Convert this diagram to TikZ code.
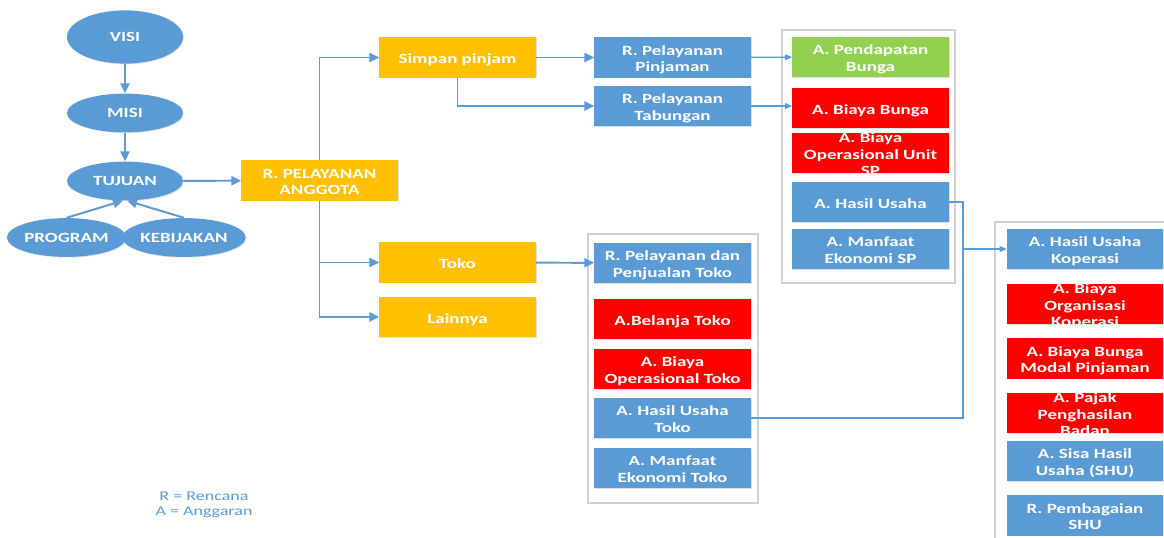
\documentclass[tikz,border=0pt]{standalone}
\usepackage{fontspec}
\newfontfamily\boxfont[FakeStretch=1.35]{Carlito}
\usetikzlibrary{shapes.geometric,arrows.meta,shadows}

\definecolor{biru}{HTML}{5B9BD5}
\definecolor{kuning}{HTML}{FFC000}
\definecolor{hijau}{HTML}{92D050}
\definecolor{merah}{HTML}{FF0000}

% text of a box, may run over the box edge
\newcommand{\isi}[1]{\raisebox{-0.45em}[0pt][0pt]{\begin{tabular}{@{}c@{}}#1\end{tabular}}}

\tikzset{
  kotak/.style={rectangle, minimum width=3.9cm, minimum height=1cm, inner sep=0pt,
    text=white, font=\boxfont\bfseries\fontsize{10}{11.5}\selectfont,
    drop shadow={opacity=0.25, shadow xshift=0.7pt, shadow yshift=-0.7pt}},
  kbiru/.style={kotak, fill=biru},
  kkuning/.style={kotak, fill=kuning},
  khijau/.style={kotak, fill=hijau},
  kmerah/.style={kotak, fill=merah},
  elips/.style={ellipse, fill=biru, text=white, minimum width=2.9cm, minimum height=0.97cm,
    inner sep=0pt, font=\boxfont\bfseries\fontsize{10}{11.5}\selectfont,
    drop shadow={opacity=0.2, shadow xshift=0.6pt, shadow yshift=-0.6pt}},
  grup/.style={draw=black!18, line width=1.8pt, fill=white,
    drop shadow={opacity=0.2, shadow xshift=1pt, shadow yshift=-1pt}},
  panah/.style={draw=biru, line width=1.4pt, -{Triangle[length=7pt,width=6.5pt]}},
  tipis/.style={draw=biru, line width=0.9pt, -{Triangle[length=5pt,width=4pt]}},
  garis/.style={draw=biru, line width=0.9pt}
}

\begin{document}
\begin{tikzpicture}[x=0.025cm, y=-0.025cm]
\useasboundingbox (0,0) rectangle (1164,538);

% draw group frames
\draw[grup] (782,30) rectangle (955,283);
\draw[grup] (588,234) rectangle (758,503);
\draw[grup] (995,222) rectangle (1185,570);

% draw ellipses
\node[elips, minimum height=1.33cm] (visi) at (125,37) {VISI};
\node[elips] (misi) at (125,113) {MISI};
\node[elips] (tujuan) at (125,181) {TUJUAN};
\node[elips] (program) at (66.5,237.5) {PROGRAM};
\node[elips] (kebijakan) at (184,237.5) {KEBIJAKAN};

% draw plan boxes
\node[kkuning] (anggota) at (319.5,180.5) {\isi{R. PELAYANAN\\ANGGOTA}};
\node[kkuning] (simpan) at (457.5,57.5) {\isi{Simpan pinjam}};
\node[kkuning] (toko) at (457.5,262.5) {\isi{Toko}};
\node[kkuning] (lainnya) at (457.5,317) {\isi{Lainnya}};
\node[kbiru] (pinjaman) at (672.5,57.5) {\isi{R. Pelayanan\\Pinjaman}};
\node[kbiru] (tabungan) at (672.5,106) {\isi{R. Pelayanan\\Tabungan}};

% savings and loans unit
\node[khijau] (pendapatan) at (870.5,57) {\isi{A. Pendapatan\\Bunga}};
\node[kmerah] (biayabunga) at (870.5,108) {\isi{A. Biaya Bunga}};
\node[kmerah] (opsunit) at (870.5,153) {\isi{A. Biaya\\Operasional Unit\\SP}};
\node[kbiru] (hasilsp) at (870.5,202) {\isi{A. Hasil Usaha}};
\node[kbiru] (manfaatsp) at (870.5,249) {\isi{A. Manfaat\\Ekonomi SP}};

% shop unit
\node[kbiru] (penjualan) at (672.5,263) {\isi{R. Pelayanan dan\\Penjualan Toko}};
\node[kmerah] (belanja) at (672.5,319) {\isi{A.Belanja Toko}};
\node[kmerah] (opstoko) at (672.5,369) {\isi{A. Biaya\\Operasional Toko}};
\node[kbiru] (hasiltoko) at (672.5,418) {\isi{A. Hasil Usaha\\Toko}};
\node[kbiru] (manfaattoko) at (672.5,468) {\isi{A. Manfaat\\Ekonomi Toko}};

% cooperative
\node[kbiru] (hasilkop) at (1085,249) {\isi{A. Hasil Usaha\\Koperasi}};
\node[kmerah] (organisasi) at (1085,304) {\isi{A. Biaya\\Organisasi\\Koperasi}};
\node[kmerah] (bungamodal) at (1085,358.5) {\isi{A. Biaya Bunga\\Modal Pinjaman}};
\node[kmerah] (pajak) at (1085,413) {\isi{A. Pajak\\Penghasilan\\Badan}};
\node[kbiru] (shu) at (1085,461) {\isi{A. Sisa Hasil\\Usaha (SHU)}};
\node[kbiru] (pembagian) at (1085,515.5) {\isi{R. Pembagaian\\SHU}};

% legend
\node[text=biru, align=center, font=\boxfont\fontsize{9.5}{11}\selectfont] (ket) at (204,505) {R = Rencana\\A = Anggaran};

% draw arrows
\draw[panah] (visi) -- (misi);
\draw[panah] (misi) -- (tujuan);
\draw[panah] (program.north) -- (tujuan.-96);
\draw[panah] (kebijakan.north) -- (tujuan.-84);
\draw[panah] (tujuan) -- (anggota);
\draw[panah] (anggota.north) |- (simpan);
\foreach \t in {toko,lainnya}
\draw[panah] (anggota.south) |- (\t);
\draw[panah] (simpan) -- (pinjaman);
\draw[panah] (simpan.south) |- (tabungan);
\draw[panah] (toko) -- (penjualan);
\draw[tipis] (pinjaman) -- (pendapatan);
\draw[tipis] (tabungan.east) -- (tabungan.east -| biayabunga.west);

% results go to the cooperative
\coordinate (simpul) at (963,418);
\coordinate (cabang) at (963,249);
\draw[garis] (hasilsp.east) -| (simpul) -- (hasiltoko.east);
\draw[tipis] (cabang) -- (hasilkop);

\end{tikzpicture}
\end{document}
